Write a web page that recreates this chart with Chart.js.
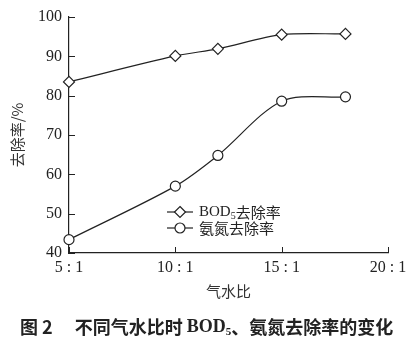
<!DOCTYPE html>
<html>
<head>
<meta charset="utf-8">
<script src="https://cdn.jsdelivr.net/npm/chart.js@4/dist/chart.umd.min.js"></script>
<style>
  html, body { margin: 0; padding: 0; background: #fff; }
  #wrap { width: 418px; height: 348px; }
</style>
</head>
<body>
<div id="wrap"><canvas id="chart" width="418" height="348"></canvas></div>
<script>
// gas-water ratio (x : 1) and removal rates (%)
const ratios = [5, 10, 12, 15, 18];
const bodRemoval = [83.5, 90.1, 91.9, 95.5, 95.7];
const nh3Removal = [43.4, 57.0, 64.8, 78.6, 79.7];

const xTicks = [5, 10, 15, 20];
const xTickLabels = ['5 : 1', '10 : 1', '15 : 1', '20 : 1'];
const yTicks = [40, 50, 60, 70, 80, 90, 100];

const seriesNames = ['BOD', '氨氮去除率'];
const xTitle = '气水比';
const yTitle = '去除率/%';

const INK = '#222';
const FONT = "'Liberation Serif', 'Noto Sans CJK SC', serif";
const CJK = "'Noto Sans CJK SC', 'Liberation Serif', serif";

// short tick marks pointing into the plot area
const innerTicks = {
    id: 'innerTicks',
    afterDraw(chart) {
        const { ctx, chartArea: a, scales } = chart;
        ctx.save();
        ctx.strokeStyle = INK;
        ctx.lineWidth = 1;
        ctx.beginPath();
        yTicks.forEach(v => {
            const y = Math.round(scales.y.getPixelForValue(v)) + 0.5;
            ctx.moveTo(a.left, y);
            ctx.lineTo(a.left + 6, y);
        });
        xTicks.forEach(v => {
            const x = Math.round(scales.x.getPixelForValue(v)) + 0.5;
            ctx.moveTo(x, a.bottom);
            ctx.lineTo(x, a.bottom - 6);
        });
        ctx.stroke();
        ctx.restore();
    }
};

function drawMarker(ctx, style, x, y) {
    ctx.beginPath();
    if (style === 'rectRot') {
        const r = 5.5;
        ctx.moveTo(x, y - r);
        ctx.lineTo(x + r, y);
        ctx.lineTo(x, y + r);
        ctx.lineTo(x - r, y);
        ctx.closePath();
    } else {
        ctx.arc(x, y, 5, 0, Math.PI * 2);
    }
    ctx.fillStyle = '#fff';
    ctx.fill();
    ctx.stroke();
}

// legend sitting inside the plot, with BOD5 subscript
const innerLegend = {
    id: 'innerLegend',
    afterDraw(chart) {
        const { ctx, chartArea: a } = chart;
        const x0 = a.left + 98;
        const rows = [a.top + 195, a.top + 211];
        const styles = ['rectRot', 'circle'];
        ctx.save();
        ctx.strokeStyle = INK;
        ctx.lineWidth = 1.2;
        ctx.fillStyle = INK;
        ctx.textBaseline = 'middle';
        rows.forEach((y, i) => {
            ctx.beginPath();
            ctx.moveTo(x0, y);
            ctx.lineTo(x0 + 26, y);
            ctx.stroke();
            drawMarker(ctx, styles[i], x0 + 13, y);
            ctx.fillStyle = INK;
            let tx = x0 + 32;
            if (i === 0) {
                ctx.font = '15px ' + FONT;
                ctx.fillText('BOD', tx, y);
                tx += ctx.measureText('BOD').width;
                ctx.font = '10px ' + FONT;
                ctx.fillText('5', tx, y + 4);
                tx += ctx.measureText('5').width;
                ctx.font = '15px ' + CJK;
                ctx.fillText('去除率', tx, y);
            } else {
                ctx.font = '15px ' + CJK;
                ctx.fillText(seriesNames[1], tx, y);
            }
        });
        ctx.restore();
    }
};

// figure caption under the axes
const caption = {
    id: 'caption',
    afterDraw(chart) {
        const { ctx } = chart;
        const big = 'bold 18px ';
        const parts = [
            { t: '图 2', f: big + CJK, dy: 0, gap: 22 },
            { t: '不同气水比时 ', f: big + CJK, dy: 0, gap: 0 },
            { t: 'BOD', f: big + FONT, dy: 0, gap: 0 },
            { t: '5', f: 'bold 11px ' + FONT, dy: 5, gap: 0 },
            { t: '、氨氮去除率的变化', f: big + CJK, dy: 0, gap: 0 }
        ];
        ctx.save();
        ctx.fillStyle = INK;
        ctx.textBaseline = 'middle';
        let x = 20;
        const y = 327;
        parts.forEach(p => {
            ctx.font = p.f;
            ctx.fillText(p.t, x, y + p.dy);
            x += ctx.measureText(p.t).width + p.gap;
        });
        ctx.restore();
    }
};

const toPoints = ys => ratios.map((r, i) => ({ x: r, y: ys[i] }));

new Chart(document.getElementById('chart'), {
    type: 'line',
    data: {
        datasets: [
            {
                label: 'BOD5去除率',
                data: toPoints(bodRemoval),
                borderColor: INK,
                borderWidth: 1.2,
                pointStyle: 'rectRot',
                pointRadius: 5.5,
                pointBackgroundColor: '#fff',
                pointBorderColor: INK,
                pointBorderWidth: 1.2,
                tension: 0.3
            },
            {
                label: seriesNames[1],
                data: toPoints(nh3Removal),
                borderColor: INK,
                borderWidth: 1.2,
                pointStyle: 'circle',
                pointRadius: 5,
                pointBackgroundColor: '#fff',
                pointBorderColor: INK,
                pointBorderWidth: 1.2,
                tension: 0.3
            }
        ]
    },
    options: {
        responsive: false,
        animation: false,
        clip: false,
        layout: { padding: { left: 8, top: 17, right: 30, bottom: 48 } },
        plugins: {
            legend: { display: false },
            tooltip: { enabled: false }
        },
        scales: {
            x: {
                type: 'linear',
                min: 5,
                max: 20,
                afterBuildTicks: s => { s.ticks = xTicks.map(v => ({ value: v })); },
                afterFit: s => { s.height = 47; },
                grid: { display: false, drawTicks: false },
                border: { display: true, color: INK, width: 1.2 },
                ticks: {
                    color: INK,
                    padding: 5,
                    maxRotation: 0,
                    font: { family: FONT, size: 16 },
                    callback: v => xTickLabels[xTicks.indexOf(v)]
                },
                title: {
                    display: true,
                    text: xTitle,
                    color: '#333',
                    padding: { top: 0, bottom: 0 },
                    font: { family: CJK, size: 15 }
                }
            },
            y: {
                min: 40,
                max: 100,
                afterBuildTicks: s => { s.ticks = yTicks.map(v => ({ value: v })); },
                afterFit: s => { s.width = 61; },
                grid: { display: false, drawTicks: false },
                border: { display: true, color: INK, width: 1.2 },
                ticks: {
                    color: INK,
                    padding: 7,
                    font: { family: FONT, size: 16 }
                },
                title: {
                    display: true,
                    text: yTitle,
                    color: '#333',
                    padding: { top: 0, bottom: 4 },
                    font: { family: CJK, size: 15 }
                }
            }
        }
    },
    plugins: [innerTicks, innerLegend, caption]
});
</script>
</body>
</html>
